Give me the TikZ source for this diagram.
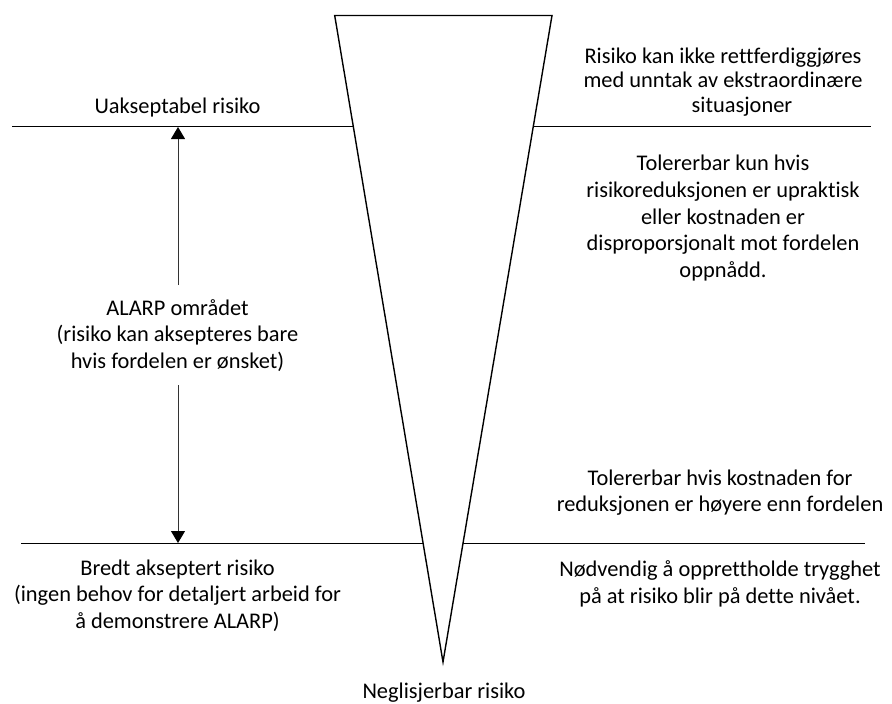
\documentclass[tikz,border=0pt]{standalone}
\usepackage{fontspec}
\setmainfont{Carlito}[Ligatures={NoCommon}]
\usetikzlibrary{arrows.meta}
\begin{document}
\begin{tikzpicture}[x=1pt,y=-1pt,
  % anchor=base of a multi-line node sits on its last line
  txt/.style={font=\fontsize{22.4}{26.7}\selectfont, align=center, inner sep=0pt, anchor=base},
  txttight/.style={font=\fontsize{22.4}{24.5}\selectfont, align=center, inner sep=0pt, anchor=base},
  level/.style={line width=1pt, black},
  funnel/.style={line width=1.4pt, black, fill=white, line join=miter},
  span/.style={line width=1pt, black!80, -{Triangle[width=14pt,length=12pt,fill=black,color=black]}}]
\useasboundingbox (0,0) rectangle (892,704);

% risk levels
\coordinate (upL) at (12,126.7);
\coordinate (upR) at (871,126.7);
\coordinate (loL) at (21,543);
\coordinate (loR) at (865,543);
\draw[level] (upL) -- (upR);
\draw[level] (loL) -- (loR);

% funnel narrowing towards negligible risk
\coordinate (fTL) at (334.7,15.5);
\coordinate (fTR) at (552,15.5);
\coordinate (fApex) at (443,662);
\draw[funnel] (fTL) -- (fTR) -- (fApex) -- cycle;

% ALARP span between the two levels
\coordinate (spanTop) at (178,127);
\coordinate (spanBot) at (178,543);
\coordinate (gapTop) at (178,285);
\coordinate (gapBot) at (178,385);
\draw[span] (gapTop) -- (spanTop);
\draw[span] (gapBot) -- (spanBot);

% left column
\node[txt] (unacc) at (177.5,113.3) {Uakseptabel risiko};
\node[txt] (alarp) at (177.5,368.4) {ALARP området\\(risiko kan aksepteres bare\\hvis fordelen er ønsket)};
\node[txt] (broad) at (177.5,628.4) {Bredt akseptert risiko\\(ingen behov for detaljert arbeid for\\å demonstrere ALARP)};

% right column
\node[txttight] (notjust) at (723,112.3) {Risiko kan ikke rettferdiggjøres\\med unntak av ekstraordinære\\\hspace*{38pt}situasjoner};
\node[txt] (tolonly) at (723,277.5) {Tolererbar kun hvis\\risikoreduksjonen er upraktisk\\eller kostnaden er\\disproporsjonalt mot fordelen\\oppnådd.};
\node[txt] (tolcost) at (720,511.7) {Tolererbar hvis kostnaden for\\reduksjonen er høyere enn fordelen};
\node[txt] (keep) at (720,603.4) {Nødvendig å opprettholde trygghet\\på at risiko blir på dette nivået.};

% bottom label
\node[txt] (negl) at (444,698) {Neglisjerbar risiko};
\end{tikzpicture}
\end{document}
